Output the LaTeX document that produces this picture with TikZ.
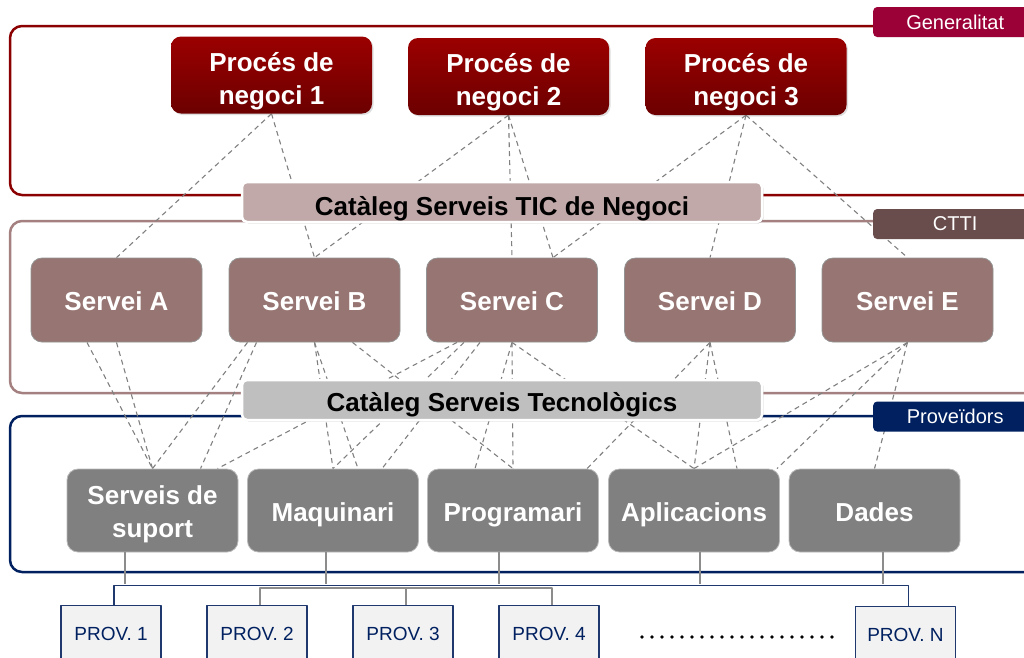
\documentclass[tikz,border=0pt]{standalone}
\usepackage{fontspec}
\setmainfont{Liberation Sans}
\usetikzlibrary{shadows}
\pgfdeclarelayer{background}
\pgfsetlayers{background,main}
\definecolor{genred}{RGB}{139,0,0}
\definecolor{genlabel}{RGB}{155,0,55}
\definecolor{procA}{RGB}{155,0,0}
\definecolor{procB}{RGB}{108,0,0}
\definecolor{cttiline}{RGB}{165,128,128}
\definecolor{cttilabel}{RGB}{105,76,76}
\definecolor{serveifill}{RGB}{151,117,114}
\definecolor{catTIC}{RGB}{193,169,169}
\definecolor{catTec}{RGB}{191,191,191}
\definecolor{navy}{RGB}{0,32,96}
\definecolor{tecfill}{RGB}{128,128,128}
\definecolor{provfill}{RGB}{242,242,242}
\definecolor{provline}{RGB}{31,56,110}
\definecolor{linegray}{RGB}{128,128,128}
\definecolor{busgray}{RGB}{140,140,140}
\begin{document}
\begin{tikzpicture}[x=1pt,y=-1pt,line join=round,
	proces/.style={rounded corners=10pt,top color=procA,bottom color=procB,text=white,font=\fontsize{26}{33}\selectfont\bfseries,align=center,minimum width=201pt,minimum height=77pt,inner sep=0pt,text height=58pt,text depth=0pt,drop shadow={opacity=0.25,shadow xshift=1.5pt,shadow yshift=-1.5pt}},
	servei/.style={rounded corners=11pt,fill=serveifill,draw=gray!85,line width=0.8pt,text=white,font=\fontsize{26}{33}\selectfont\bfseries,align=center,minimum width=171pt,minimum height=84pt,inner sep=0pt,text height=21pt,text depth=0pt},
	tecno/.style={servei,fill=tecfill,draw=gray!55,minimum height=83pt},
	cataleg/.style={rounded corners=5pt,draw=white,line width=2.5pt,font=\fontsize{26}{30}\selectfont\bfseries,minimum width=520pt,minimum height=40pt,inner sep=0pt,text depth=0pt,drop shadow={opacity=0.3,shadow xshift=1.5pt,shadow yshift=-1.5pt}},
	etiqueta/.style={rounded corners=4pt,text=white,font=\fontsize{20}{20}\selectfont,minimum width=164pt,minimum height=30pt,inner sep=0pt,anchor=west},
	prov/.style={fill=provfill,draw=provline,line width=1.2pt,text=navy,font=\fontsize{19}{19}\selectfont,minimum width=100pt,minimum height=56pt,inner sep=0pt,anchor=north},
	enllac/.style={draw=linegray,line width=1.1pt,dash pattern=on 5pt off 4pt},
	busblau/.style={draw=provline,line width=1.5pt},
	busgris/.style={draw=busgray,line width=1.5pt}]
	\useasboundingbox (0,0) rectangle (1024,657);
	\node[etiqueta,fill=genlabel] (lgen) at (873,22) {Generalitat};
	\node[etiqueta,fill=cttilabel] (lctti) at (873,224) {CTTI};
	\node[etiqueta,fill=navy] (lprov) at (873,416.5) {Proveïdors};
	\node[proces] (p1) at (271.5,75) {Procés de\\negoci 1};
	\node[proces] (p2) at (508.5,76.5) {Procés de\\negoci 2};
	\node[proces] (p3) at (746,76.5) {Procés de\\negoci 3};
	\node[cataleg,fill=catTIC,text height=26pt] (ctic) at (502,202) {Catàleg Serveis TIC de Negoci};
	\node[servei] (sA) at (116.5,300) {Servei A};
	\node[servei] (sB) at (314.5,300) {Servei B};
	\node[servei] (sC) at (512,300) {Servei C};
	\node[servei] (sD) at (710,300) {Servei D};
	\node[servei] (sE) at (907.5,300) {Servei E};
	\node[cataleg,fill=catTec,text height=23pt] (ctec) at (502,400) {Catàleg Serveis Tecnològics};
	\node[tecno,text height=53pt] (sup) at (152.5,510.5) {Serveis de\\suport};
	\node[tecno] (maq) at (333,510.5) {Maquinari};
	\node[tecno] (prog) at (513,510.5) {Programari};
	\node[tecno] (apl) at (694,510.5) {Aplicacions};
	\node[tecno] (dad) at (874.5,510.5) {Dades};
	\node[prov] (prov1) at (111,605) {PROV. 1};
	\node[prov] (prov2) at (257,605) {PROV. 2};
	\node[prov] (prov3) at (403,605) {PROV. 3};
	\node[prov] (prov4) at (549,605) {PROV. 4};
	\node[prov] (provN) at (905.5,606) {PROV. N};
	\foreach \i in {0,...,19} \fill (642+\i*10,637) circle (1.8pt);
	\draw[busblau] ([xshift=3pt]prov1.north) -- ++(0,-19.5) -| ([xshift=3pt]provN.north);
	\draw[busgris] ([xshift=3pt]prov2.north) -- ++(0,-17) -| ([xshift=3pt]prov4.north);
	\draw[busgris] ([xshift=3pt]prov3.north) -- ++(0,-17);
	\draw[busgris] ([xshift=-27.5pt]sup.south) -- ++(0,32);
	\draw[busgris] ([xshift=-7pt]maq.south) -- ++(0,32);
	\draw[busgris] ([xshift=-14pt]prog.south) -- ++(0,32);
	\draw[busgris] ([xshift=6pt]apl.south) -- ++(0,32);
	\draw[busgris] ([xshift=8.5pt]dad.south) -- ++(0,32);
	\begin{pgfonlayer}{background}
		\draw[genred,line width=2.5pt,rounded corners=12pt] (10,26) rectangle (1060,195);
		\draw[cttiline,line width=2.5pt,rounded corners=12pt] (10,221) rectangle (1060,393);
		\draw[navy,line width=2.5pt,rounded corners=12pt] (10,416) rectangle (1060,572);
		\draw[enllac] (p1.south) -- (sA.north);
		\draw[enllac] (p1.south) -- (sB.north);
		\draw[enllac] (p2.south) -- (sB.north);
		\draw[enllac] (p2.south) -- (sC.north);
		\draw[enllac] (p2.south) -- ([xshift=41pt]sC.north);
		\draw[enllac] (p3.south) -- ([xshift=41pt]sC.north);
		\draw[enllac] (p3.south) -- (sD.north);
		\draw[enllac] (p3.south) -- (sE.north);
		\draw[enllac] ([xshift=-29.5pt]sA.south) -- (sup.north);
		\draw[enllac] (sA.south) -- (sup.north);
		\draw[enllac] ([xshift=-67pt]sB.south) -- (sup.north);
		\draw[enllac] ([xshift=-58pt]sB.south) -- ([xshift=48pt]sup.north);
		\draw[enllac] (sB.south) -- (maq.north);
		\draw[enllac] (sB.south) -- ([xshift=25pt]maq.north);
		\draw[enllac] ([xshift=38pt]sB.south) -- (prog.north);
		\draw[enllac] ([xshift=-55pt]sC.south) -- ([xshift=65pt]sup.north);
		\draw[enllac] ([xshift=-48pt]sC.south) -- (maq.north);
		\draw[enllac] ([xshift=-32pt]sC.south) -- ([xshift=49pt]maq.north);
		\draw[enllac] (sC.south) -- ([xshift=-38pt]prog.north);
		\draw[enllac] (sC.south) -- (prog.north);
		\draw[enllac] (sC.south) -- (apl.north);
		\draw[enllac] (sD.south) -- ([xshift=74pt]prog.north);
		\draw[enllac] (sD.south) -- (apl.north);
		\draw[enllac] (sD.south) -- ([xshift=43pt]apl.north);
		\draw[enllac] (sE.south) -- (apl.north);
		\draw[enllac] (sE.south) -- ([xshift=83pt]apl.north);
		\draw[enllac] (sE.south) -- (dad.north);
	\end{pgfonlayer}
\end{tikzpicture}
\end{document}
